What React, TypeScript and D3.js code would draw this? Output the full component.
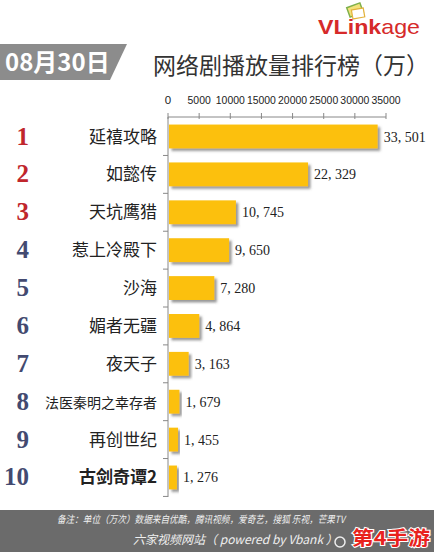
import React from "react";
import * as d3 from "d3";

const titles = ["延禧攻略", "如懿传", "天坑鹰猎", "惹上冷殿下", "沙海", "媚者无疆", "夜天子", "法医秦明之幸存者", "再创世纪", "古剑奇谭2"];
const values = [33501, 22329, 10745, 9650, 7280, 4864, 3163, 1679, 1455, 1276];
const ranks = ["1", "2", "3", "4", "5", "6", "7", "8", "9", "10"];
const tickValues = [0, 5000, 10000, 15000, 20000, 25000, 30000, 35000];

const W = 434;
const H = 552;

export default function App() {
  const x = d3.scaleLinear().domain([0, 35000]).range([168, 386]);
  const y = d3.scaleBand<string>().domain(ranks).range([117, 497]).paddingInner(0.37).paddingOuter(0.2);
  const fmt = (v: number) => d3.format(",")(v).replace(",", ", ");
  const cjk = "'Noto Sans CJK SC', sans-serif";
  const serif = "'Liberation Serif', 'DejaVu Serif', serif";
  const gap = (y.step() - y.bandwidth()) / 2;

  return (
    <svg width={W} height={H} style={{ position: "absolute", left: 0, top: 0, background: "#fff" }}>
      <defs>
        <filter id="sh" x="-10%" y="-20%" width="130%" height="160%">
          <feDropShadow dx="2.5" dy="2.5" stdDeviation="1.2" floodColor="#555" floodOpacity="0.6" />
        </filter>
      </defs>
      <rect x={0} y={0} width={W} height={H} fill="#fff" />

      {/* logo */}
      <g>
        <rect x={348} y={5} width={14} height={10} fill="#f3e27a" stroke="#7fb04a" strokeWidth={1.5} transform="rotate(-20 355 10)" />
        <rect x={352} y={9} width={12} height={9} fill="#fff" stroke="#e3b23c" strokeWidth={1.2} transform="rotate(-10 358 13)" />
        <text x={318} y={34} fontFamily="'Liberation Sans', Arial, sans-serif" fontSize={21} fill="#d62a2a" textLength={102} lengthAdjust="spacingAndGlyphs">
          <tspan fontWeight="bold">VLink</tspan>
          <tspan fontWeight="normal">age</tspan>
        </text>
      </g>

      {/* date badge */}
      <path d="M0,44 L127,44 L110,80 L0,80 Z" fill="#8c8c8c" />
      <text x={5} y={71} fontFamily={cjk} fontWeight="bold" fontSize={24} fill="#fff">08月30日</text>

      {/* title */}
      <text x={153} y={74} fontFamily={cjk} fontSize={23} fill="#333">网络剧播放量排行榜（万）</text>

      {/* x axis */}
      <line x1={x(0)} x2={x(35000)} y1={117} y2={117} stroke="#888" strokeWidth={1} />
      {tickValues.map((t) => (
        <g key={t}>
          <line x1={x(t)} x2={x(t)} y1={113} y2={119} stroke="#888" />
          <text x={x(t)} y={104} textAnchor="middle" fontFamily="'Liberation Sans', Arial, sans-serif" fontSize={11.5} fill="#222" textLength={t === 0 ? undefined : String(t).length * 5.8} lengthAdjust="spacingAndGlyphs">
            {t}
          </text>
        </g>
      ))}

      {/* y axis */}
      <line x1={168} x2={168} y1={117} y2={497} stroke="#888" />
      {ranks.map((r) => (
        <line key={"t" + r} x1={163} x2={168} y1={y(r)! + y.bandwidth() + gap} y2={y(r)! + y.bandwidth() + gap} stroke="#888" />
      ))}

      {/* bars */}
      {values.map((v, i) => {
        const r = ranks[i];
        const yy = y(r)!;
        const cy = yy + y.bandwidth() / 2;
        return (
          <g key={r}>
            <rect x={x(0) + 1} y={yy} width={x(v) - x(0)} height={y.bandwidth()} fill="#fcc00c" filter="url(#sh)" />
            <text x={x(v) + 7} y={cy + 5} fontFamily={serif} fontSize={14} fill="#222">{fmt(v)}</text>
            <text x={157} y={cy + 6} textAnchor="end" fontFamily={cjk} fontSize={titles[i].length > 6 ? 14 : 17} fill="#222" fontWeight={i === 9 ? "bold" : "normal"}>{titles[i]}</text>
            <text x={29} y={cy + 8} textAnchor="end" fontFamily={serif} fontWeight="bold" fontSize={25} fill={i < 3 ? "#c0262c" : "#434a70"}>{r}</text>
          </g>
        );
      })}

      {/* footer */}
      <rect x={0} y={510} width={W} height={42} fill="#6b6b6b" />
      <text x={57} y={523} fontFamily={cjk} fontStyle="italic" fontSize={10} fill="#f0f0f0" textLength={288} lengthAdjust="spacingAndGlyphs">备注：单位（万次）数据来自优酷，腾讯视频，爱奇艺，搜狐  乐视，芒果TV</text>
      <text x={133} y={544} fontFamily={cjk} fontStyle="italic" fontSize={12} fill="#f0f0f0">六家视频网站（ powered by Vbank ）</text>
      <circle cx={340} cy={542} r={5} fill="none" stroke="#eee" strokeWidth={1.5} />
      <text x={352} y={545} fontFamily={cjk} fontWeight="bold" fontSize={19} fill="#e8231e" stroke="#fff" strokeWidth={2} paintOrder="stroke" textLength={78} lengthAdjust="spacingAndGlyphs">第4手游</text>
    </svg>
  );
}
